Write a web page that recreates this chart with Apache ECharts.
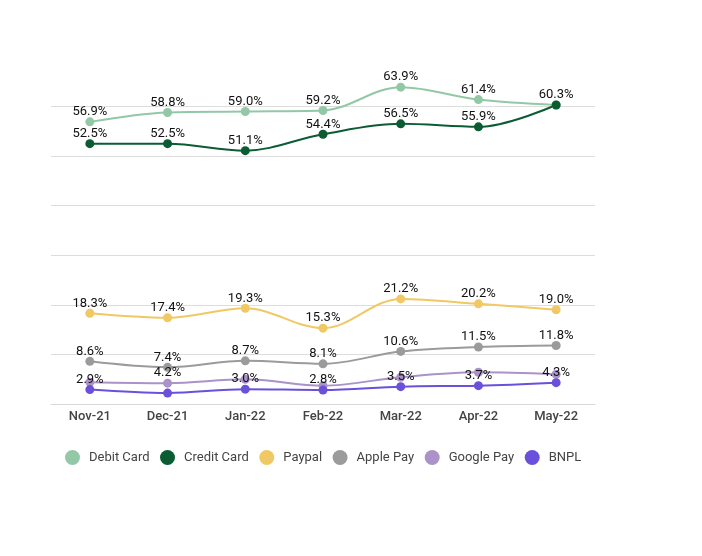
<!DOCTYPE html>
<html><head><meta charset="utf-8">
<script src="https://cdn.jsdelivr.net/npm/echarts@6/dist/echarts.min.js"></script>
<style>html,body{margin:0;padding:0;background:#fff}#c{width:702px;height:556px}</style>
</head><body><div id="c"></div>
<script>
const categories = ['Nov-21','Dec-21','Jan-22','Feb-22','Mar-22','Apr-22','May-22'];
const seriesNames = ['Debit Card','Credit Card','Paypal','Apple Pay','Google Pay','BNPL'];
const debitCard  = [56.9, 58.8, 59.0, 59.2, 63.9, 61.4, 60.3];
const creditCard = [52.5, 52.5, 51.1, 54.4, 56.5, 55.9, 60.3];
const paypal     = [18.3, 17.4, 19.3, 15.3, 21.2, 20.2, 19.0];
const applePay   = [8.6, 7.4, 8.7, 8.1, 10.6, 11.5, 11.8];
const googlePay  = [4.4, 4.2, 5.0, 3.7, 5.4, 6.4, 6.0];
const bnpl       = [2.9, 2.2, 3.0, 2.8, 3.5, 3.7, 4.3];
// which point labels are visible (others hidden by overlap in the original)
const labelShown = {
  'Debit Card':  [1,1,1,1,1,1,0],
  'Credit Card': [1,1,1,1,1,1,1],
  'Paypal':      [1,1,1,1,1,1,1],
  'Apple Pay':   [1,1,1,1,1,1,1],
  'Google Pay':  [0,1,0,0,0,0,0],
  'BNPL':        [1,0,1,1,1,1,1]
};
const colors = ['#93c8a6','#0b5c33','#f0c964','#9b9b9b','#ab92c8','#6a50da'];
const allData = [debitCard, creditCard, paypal, applePay, googlePay, bnpl];

const chart = echarts.init(document.getElementById('c'), null, {renderer:'canvas'});
chart.setOption({
  animation: false,
  color: colors,
  textStyle: {fontFamily: 'Roboto'},
  grid: {left: 51, right: 107, top: 106.5, bottom: 152},
  legend: {
    data: seriesNames, top: 445, left: 60,
    icon: 'circle', itemWidth: 15, itemHeight: 15, itemGap: 10.5,
    textStyle: {color: '#444', fontSize: 13, fontFamily: 'Roboto', padding: [0, 0, 0, 4]}
  },
  xAxis: {
    type: 'category', data: categories, boundaryGap: true,
    axisLine: {lineStyle: {color: '#d8d8d8'}},
    axisTick: {show: false},
    axisLabel: {color: '#444', fontSize: 13, fontWeight: 500, margin: 6}
  },
  yAxis: {
    type: 'value', min: 0, max: 60, interval: 10,
    axisLabel: {show: false}, axisLine: {show: false}, axisTick: {show: false},
    splitLine: {lineStyle: {color: '#dddddd'}}
  },
  series: seriesNames.map((name, i) => ({
    name, type: 'line', smooth: 0.35, clip: false,
    symbol: 'circle', symbolSize: 9,
    lineStyle: {width: 2},
    data: allData[i].map((v, j) => ({value: v, label: {show: !!labelShown[name][j]}})),
    label: {
      show: true, position: 'top', distance: -1,
      formatter: p => p.value.toFixed(1) + '%',
      color: '#111', fontSize: 13, fontFamily: 'Roboto'
    }
  }))
});
</script></body></html>
